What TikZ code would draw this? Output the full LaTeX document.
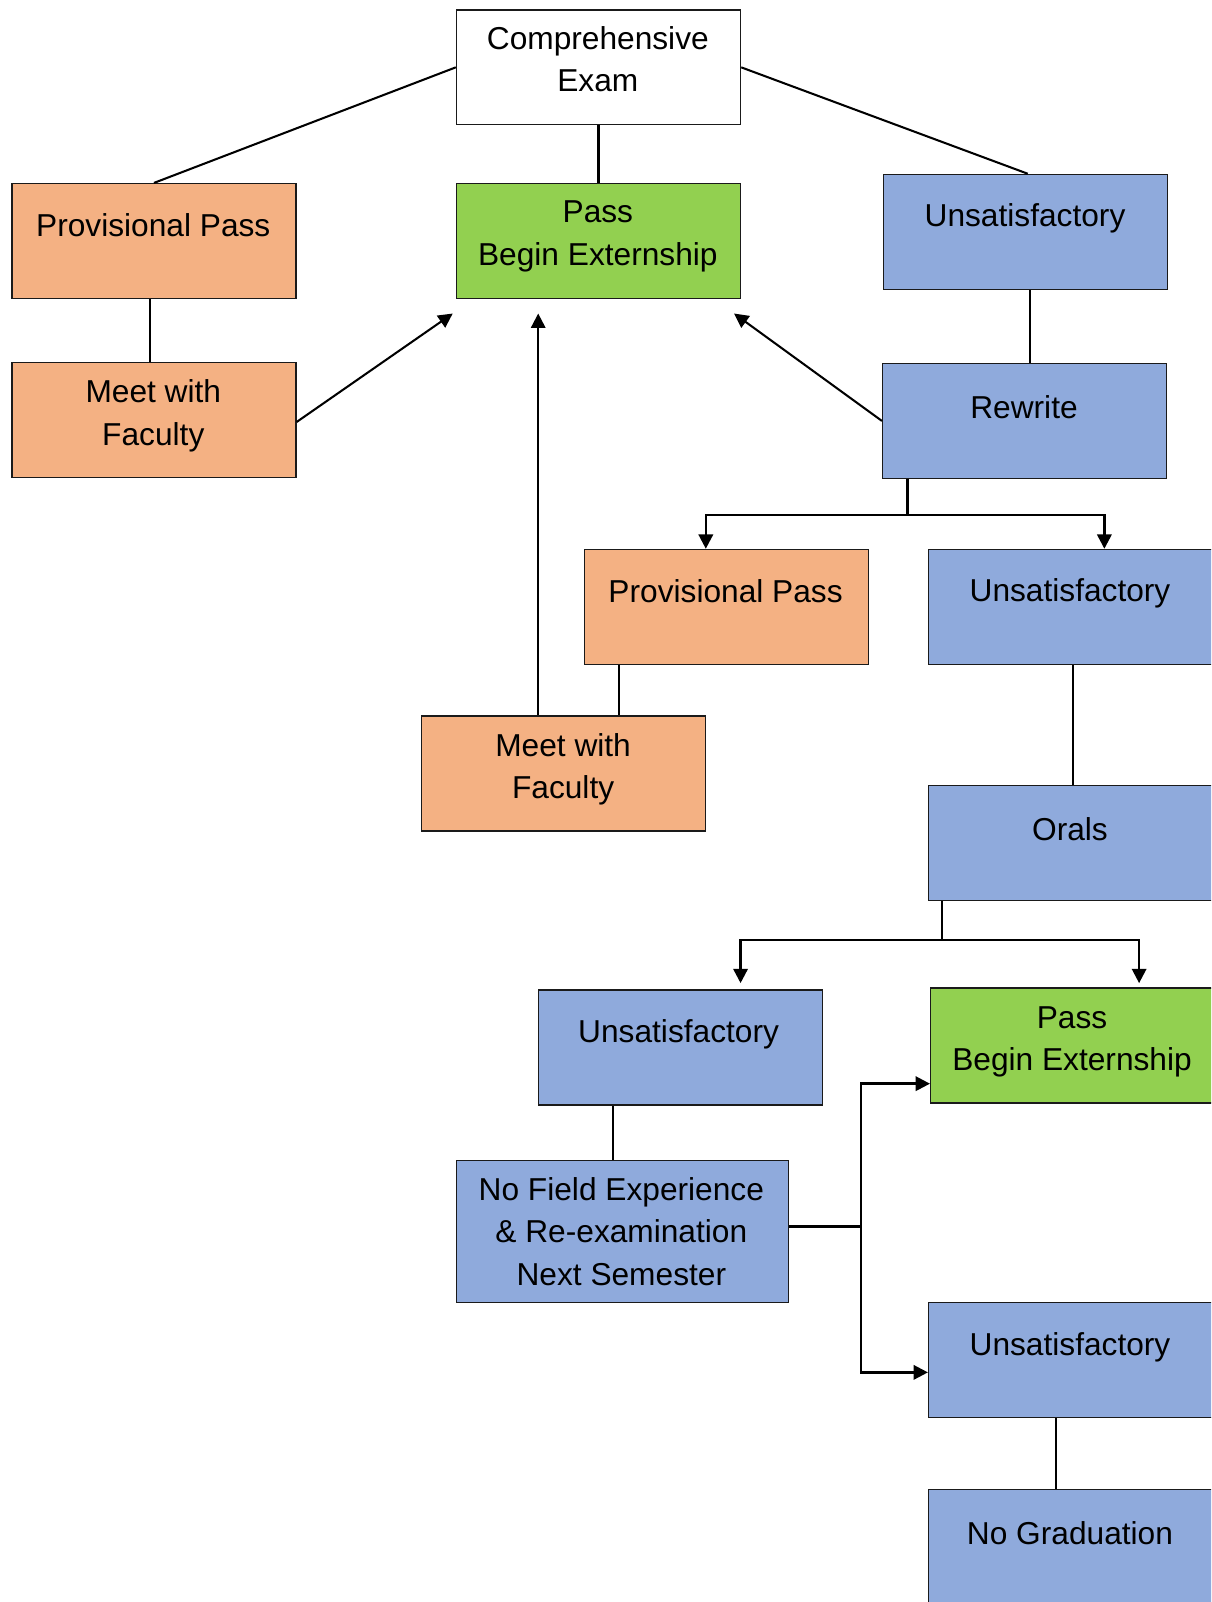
\documentclass[tikz,border=0pt]{standalone}
\usepackage{fontspec}
\setmainfont{Liberation Sans}
\usetikzlibrary{arrows.meta,calc}
\definecolor{orangebox}{HTML}{F4B183}
\definecolor{greenbox}{HTML}{92D050}
\definecolor{bluebox}{HTML}{8FAADC}
\definecolor{edge}{HTML}{1A1A1A}
\tikzset{
  box/.style={draw=edge, line width=1.3pt, minimum width=278pt, minimum height=112.5pt, inner sep=0pt, anchor=north west},
  obox/.style={box, fill=orangebox},
  gbox/.style={box, fill=greenbox},
  bbox/.style={box, fill=bluebox},
  wbox/.style={box, fill=white},
  txt/.style={font=\fontsize{31}{41.5}\selectfont, align=center, inner sep=0pt, anchor=center},
  conn/.style={line width=2.4pt, draw=black},
  thin conn/.style={line width=2pt, draw=black},
  arr/.style={-{Triangle[length=14pt,width=14pt]}},
}
\begin{document}
\begin{tikzpicture}[x=1pt,y=-1pt]
\useasboundingbox (0,0) rectangle (1185.1,1567.6);
\clip (0,0) rectangle (1185.1,1567.6);
% boxes
\node[wbox] (exam) at (446,9) {};
\node[obox] (pp1) at (11,179) {};
\node[gbox] (pass1) at (446,179) {};
\node[bbox] (un1) at (864,170) {};
\node[obox] (meet1) at (11,354) {};
\node[bbox] (rewrite) at (863,355) {};
\node[obox] (pp2) at (571,537) {};
\node[bbox] (un2) at (908,537) {};
\node[obox] (meet2) at (412,700) {};
\node[bbox] (orals) at (908,768) {};
\node[bbox] (un3) at (526,968) {};
\node[gbox] (pass2) at (910,966) {};
\node[bbox, minimum width=325pt, minimum height=139pt] (nofield) at (446,1135) {};
\node[bbox] (un4) at (908,1274) {};
\node[bbox] (nograd) at (908,1457) {};
% texts
\node[txt] (exam-t) at (585,58) {Comprehensive\\Exam};
\node[txt] (pp1-t) at (150,220) {Provisional Pass};
\node[txt] (pass1-t) at (585,231.5) {Pass\\Begin Externship};
\node[txt] (un1-t) at (1003,214) {Unsatisfactory};
\node[txt] (meet1-t) at (150,407) {Meet with\\Faculty};
\node[txt] (rewrite-t) at (1002,398) {Rewrite};
\node[txt] (pp2-t) at (710,578) {Provisional Pass};
\node[txt] (un2-t) at (1047,581) {Unsatisfactory};
\node[txt] (meet2-t) at (551,752.5) {Meet with\\Faculty};
\node[txt] (orals-t) at (1047,811) {Orals};
\node[txt] (un3-t) at (664,1012) {Unsatisfactory};
\node[txt] (pass2-t) at (1049,1019.5) {Pass\\Begin Externship};
\node[txt] (nofield-t) at (608,1205) {No Field Experience\\\& Re-examination\\Next Semester};
\node[txt] (un4-t) at (1047,1318) {Unsatisfactory};
\node[txt] (nograd-t) at (1047,1500) {No Graduation};
% plain connectors
\draw[thin conn] (exam.west) -- (pp1.north);
\draw[thin conn] (exam.south) -- (pass1.north);
\draw[thin conn] (exam.east) -- ([xshift=2pt]un1.north);
\draw[thin conn] ([xshift=-4pt]pp1.south) -- ([xshift=-4pt]meet1.north);
\coordinate (un1-b) at ([xshift=4pt]un1.south);
\draw[thin conn] (un1-b) -- (un1-b |- rewrite.north);
\coordinate (pp2-b) at ([xshift=-105pt]pp2.south);
\draw[thin conn] (pp2-b) -- (pp2-b |- meet2.north);
\coordinate (un2-b) at ([xshift=2pt]un2.south);
\draw[thin conn] (un2-b) -- (un2-b |- orals.north);
\coordinate (un3-b) at ([xshift=-66pt]un3.south);
\draw[thin conn] (un3-b) -- (un3-b |- nofield.north);
\coordinate (un4-b) at ([xshift=-14pt]un4.south);
\draw[thin conn] (un4-b) -- (un4-b |- nograd.north);
% arrows into pass1
\draw[thin conn, arr] ([yshift=-2pt]meet1.east) -- ($(pass1.south west)+(-3,14)$);
\coordinate (meet2-t0) at ([xshift=-25pt]meet2.north);
\draw[thin conn, arr] (meet2-t0) -- ($(meet2-t0 |- pass1.south)+(0,14)$);
\draw[thin conn, arr] (rewrite.west) -- ($(pass1.south east)+(-7,14)$);
% rewrite split
\coordinate (rw-j) at ($(rewrite.south west)+(25,35)$);
\draw[conn] ($(rewrite.south west)+(25,0)$) -- (rw-j);
\draw[conn, arr] (rw-j) -| ([xshift=-20pt]pp2.north);
\draw[conn, arr] (rw-j) -| ([xshift=33pt]un2.north);
% orals split
\coordinate (or-j) at ($(orals.south west)+(14,38)$);
\draw[conn] ($(orals.south west)+(14,0)$) -- (or-j);
\draw[conn, arr] (or-j) -| ($(un3.north)+(59,-6)$);
\draw[conn, arr] (or-j) -| ($(pass2.north)+(65,-4)$);
% nofield split
\coordinate (nf-s) at ($(nofield.east)+(0,-4.8)$);
\coordinate (nf-j) at ($(nf-s)+(70,0)$);
\draw[conn] (nf-s) -- (nf-j);
\draw[conn, arr] (nf-j) |- ($(pass2.west)+(0,37.5)$);
\draw[conn, arr] (nf-j) |- ($(un4.west)+(0,12)$);
\end{tikzpicture}
\end{document}
